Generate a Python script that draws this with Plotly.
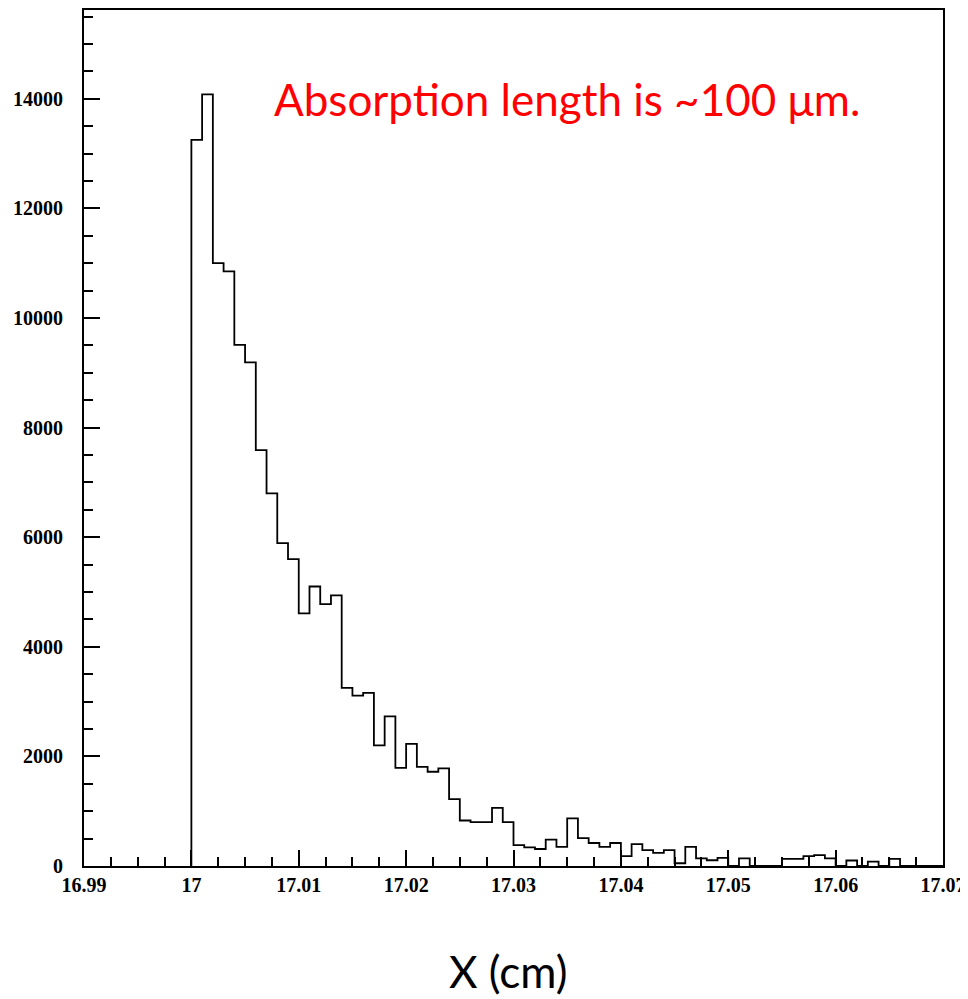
import numpy as np
import plotly.graph_objects as go

# Histogram: bins of width 0.001 cm starting at 17.000 cm
bin_start = 17.000
bin_width = 0.001
counts = [
    13250, 14080, 11000, 10850, 9510, 9190, 7590, 6800, 5890, 5600,
    4610, 5100, 4780, 4940, 3250, 3110, 3160, 2200, 2730, 1790,
    2230, 1810, 1720, 1780, 1220, 830, 800, 800, 1060, 800,
    380, 340, 310, 480, 350, 870, 510, 420, 350, 420,
    180, 400, 290, 240, 290, 50, 350, 140, 105, 150,
    0, 140, 0, 0, 0, 130, 130, 180, 200, 140,
    0, 100, 0, 80, 0, 130, 0, 0, 0, 0,
]

x_tickvals = [16.99, 17.00, 17.01, 17.02, 17.03, 17.04, 17.05, 17.06, 17.07]
x_ticktext = ["16.99", "17", "17.01", "17.02", "17.03", "17.04", "17.05", "17.06", "17.07"]
y_tickvals = [0, 2000, 4000, 6000, 8000, 10000, 12000, 14000]
y_ticktext = ["0", "2000", "4000", "6000", "8000", "10000", "12000", "14000"]

title_text = "Absorption length is ~100 μm."
xaxis_title = "X (cm)"

n = len(counts)
edges = bin_start + bin_width * np.arange(n + 1)
xs = np.concatenate([[edges[0]], edges])
ys = np.concatenate([[0], counts, [counts[-1]]])

fig = go.Figure()
fig.add_trace(go.Scatter(
    x=xs, y=ys, mode="lines", line=dict(shape="hv", color="black", width=1.8),
    hoverinfo="skip", showlegend=False,
))

tickfont = dict(family="Liberation Serif", size=20, color="black", weight="bold")

fig.update_layout(
    width=960, height=991,
    margin=dict(l=76, r=25, t=0, b=133, pad=0),
    paper_bgcolor="white", plot_bgcolor="white",
    showlegend=False,
    xaxis=dict(
        range=[16.99, 17.07], tickvals=x_tickvals, ticktext=x_ticktext,
        ticks="inside", ticklen=16, tickwidth=2, tickcolor="black",
        minor=dict(dtick=0.0025, tick0=16.99, ticks="inside", ticklen=9, tickwidth=2, tickcolor="black"),
        showline=True, linecolor="black", linewidth=2, mirror=True,
        showgrid=False, zeroline=False, tickfont=tickfont, ticklabelstandoff=0,
    ),
    yaxis=dict(
        range=[0, 15620], tickvals=y_tickvals, ticktext=y_ticktext,
        ticks="inside", ticklen=16, tickwidth=2, tickcolor="black",
        minor=dict(dtick=500, tick0=0, ticks="inside", ticklen=9, tickwidth=2, tickcolor="black"),
        showline=True, linecolor="black", linewidth=2, mirror=True,
        showgrid=False, zeroline=False, tickfont=tickfont, ticklabelstandoff=15,
    ),
    annotations=[
        dict(x=17.035, y=14000, xref="x", yref="y", text=title_text, showarrow=False,
             font=dict(family="Lato", size=44, color="#ff0000"), xanchor="center", yanchor="middle"),
        dict(x=0.4936, y=-0.155, xref="paper", yref="paper", text=xaxis_title, showarrow=False,
             font=dict(family="Lato", size=44, color="black"), xanchor="center", yanchor="bottom"),
    ],
)

fig.write_html("out.html")
